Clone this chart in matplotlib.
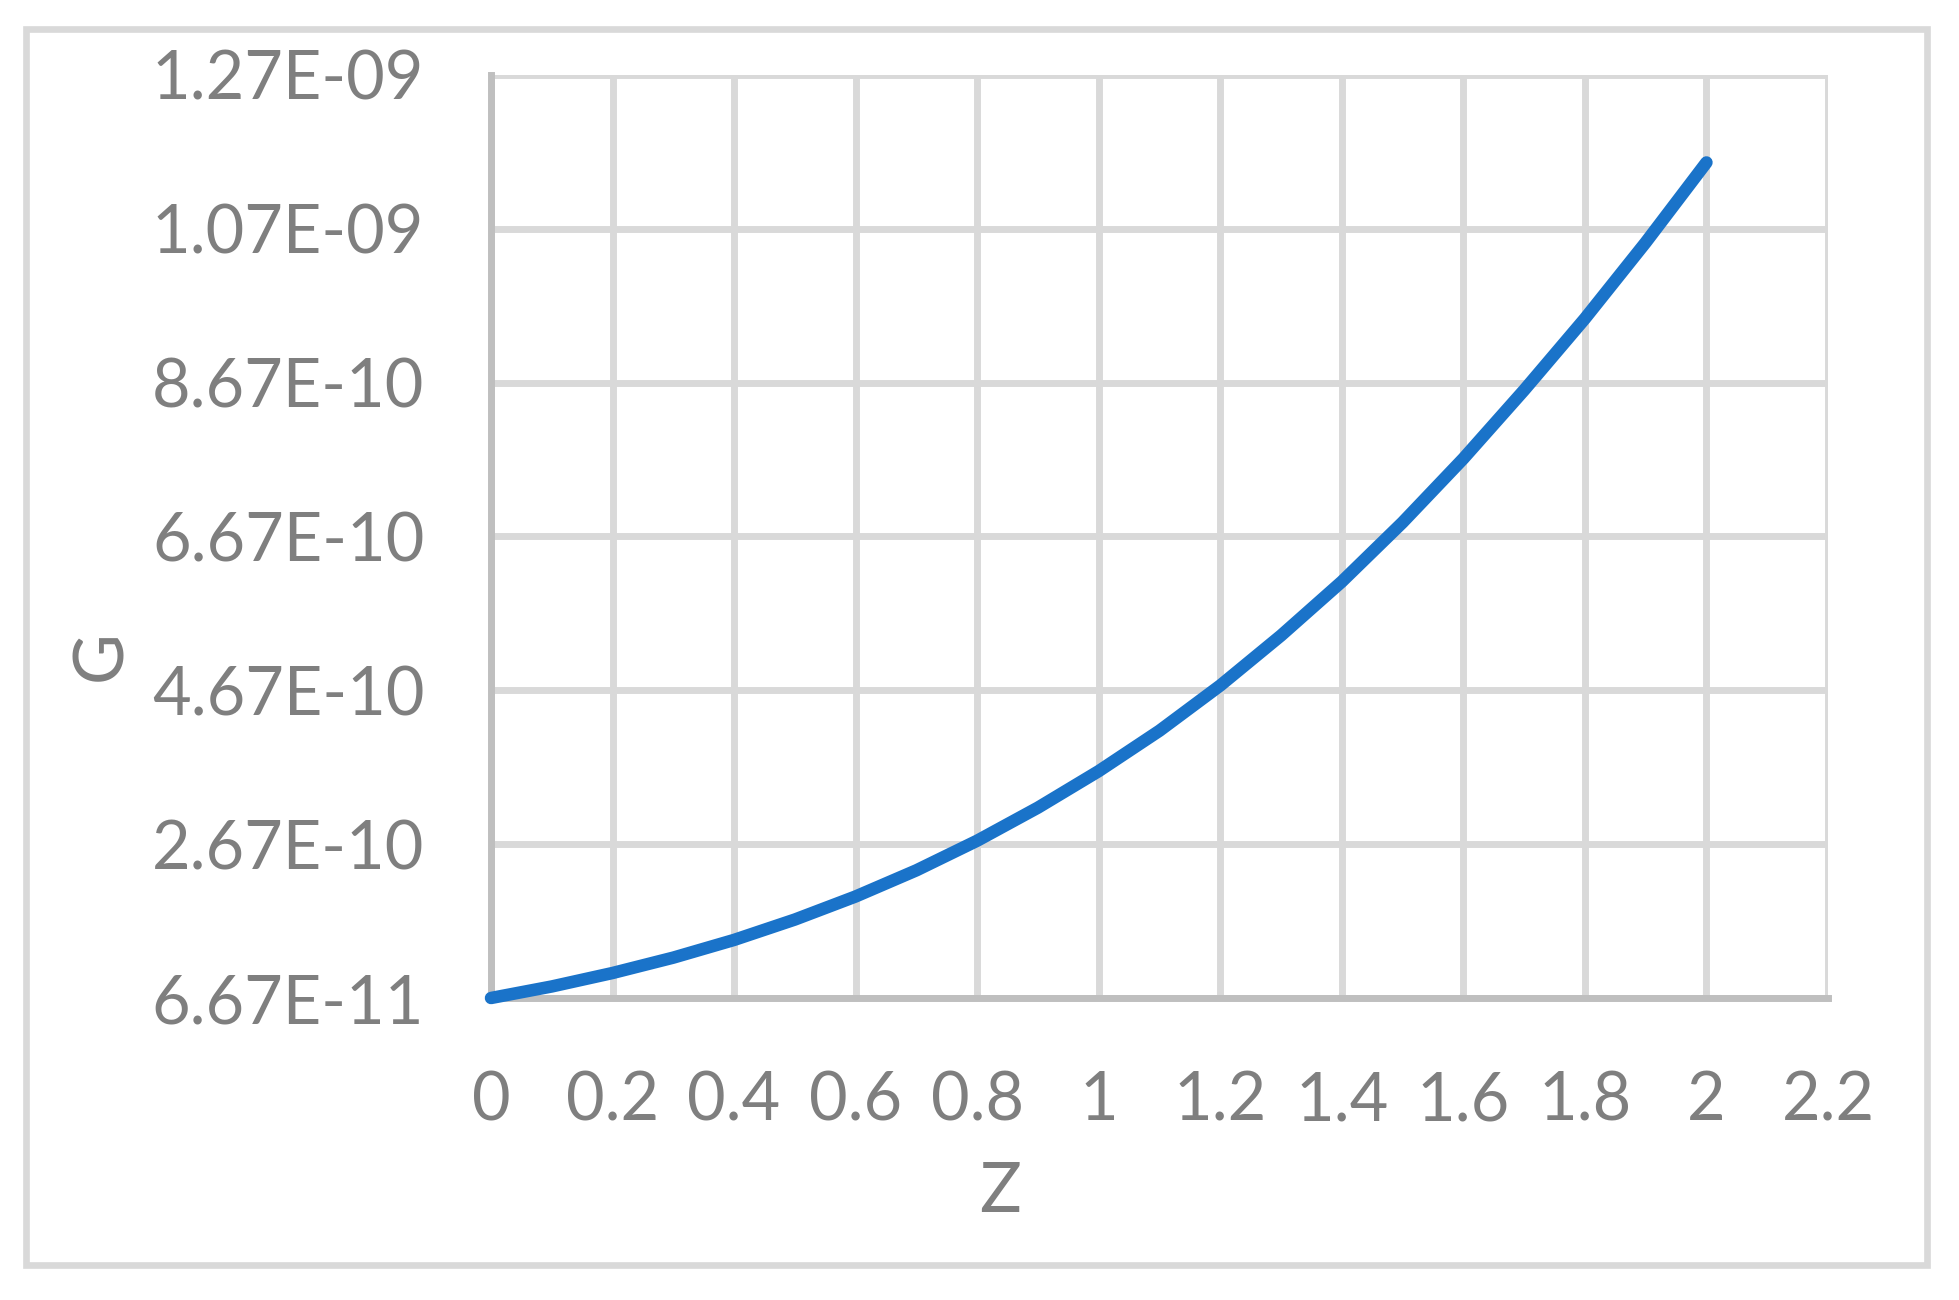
import matplotlib
matplotlib.use("Agg")
import matplotlib.pyplot as plt
from matplotlib.patches import Rectangle

# values (every 0.1 in Z)
z = [0.0, 0.1, 0.2, 0.3, 0.4, 0.5, 0.6, 0.7, 0.8, 0.9, 1.0,
     1.1, 1.2, 1.3, 1.4, 1.5, 1.6, 1.7, 1.8, 1.9, 2.0]
G = [6.67e-11, 8.17e-11, 9.92e-11, 1.192e-10, 1.422e-10, 1.687e-10, 1.987e-10,
     2.327e-10, 2.712e-10, 3.142e-10, 3.617e-10, 4.142e-10, 4.73e-10, 5.38e-10,
     6.08e-10, 6.85e-10, 7.68e-10, 8.57e-10, 9.50e-10, 1.049e-09, 1.153e-09]

x_ticks = [0, 0.2, 0.4, 0.6, 0.8, 1.0, 1.2, 1.4, 1.6, 1.8, 2.0, 2.2]
x_labels = ["0", "0.2", "0.4", "0.6", "0.8", "1", "1.2", "1.4", "1.6", "1.8", "2", "2.2"]
y_ticks = [6.67e-11, 2.667e-10, 4.667e-10, 6.667e-10, 8.667e-10, 1.0667e-09, 1.2667e-09]
y_labels = ["6.67E-11", "2.67E-10", "4.67E-10", "6.67E-10", "8.67E-10", "1.07E-09", "1.27E-09"]

plt.rcParams['font.family'] = ['Lato', 'DejaVu Sans']
grey_txt = '#7f7f7f'
W, H = 1959, 1300

fig = plt.figure(figsize=(W / 100, H / 100), dpi=100)

# outer chart border
fig.patches.append(Rectangle((26 / W, 1 - 1265 / H), (1927 - 26) / W, (1265 - 29) / H,
                             transform=fig.transFigure, fill=False,
                             edgecolor='#d9d9d9', linewidth=4.8))

ax = fig.add_axes([491 / W, 1 - 998 / H, (1828 - 491) / W, (998 - 75) / H])
ax.set_xlim(0, 2.2)
ax.set_ylim(y_ticks[0], y_ticks[-1])
ax.set_xticks(x_ticks)
ax.set_xticklabels(x_labels)
ax.set_yticks(y_ticks)
ax.set_yticklabels(y_labels)
ax.tick_params(length=0, labelsize=48, labelcolor=grey_txt)
ax.tick_params(axis='y', pad=48)
ax.tick_params(axis='x', pad=52)

ax.grid(True, color='#d9d9d9', linewidth=5)
ax.set_axisbelow(True)
for s in ['top', 'right']:
    ax.spines[s].set_visible(False)
for s in ['left', 'bottom']:
    ax.spines[s].set_color('#bfbfbf')
    ax.spines[s].set_linewidth(5)

ax.plot(z, G, color='#1a73c9', linewidth=9, solid_capstyle='round',
        solid_joinstyle='round', clip_on=False, zorder=5)

fig.text(1000 / W, 1 - 1193 / H, 'Z', fontsize=50, color=grey_txt, ha='center', va='center')
fig.text(102 / W, 1 - 656 / H, 'G', fontsize=50, color=grey_txt, ha='center', va='center',
         rotation=90)

fig.savefig('out.png', dpi=100)
